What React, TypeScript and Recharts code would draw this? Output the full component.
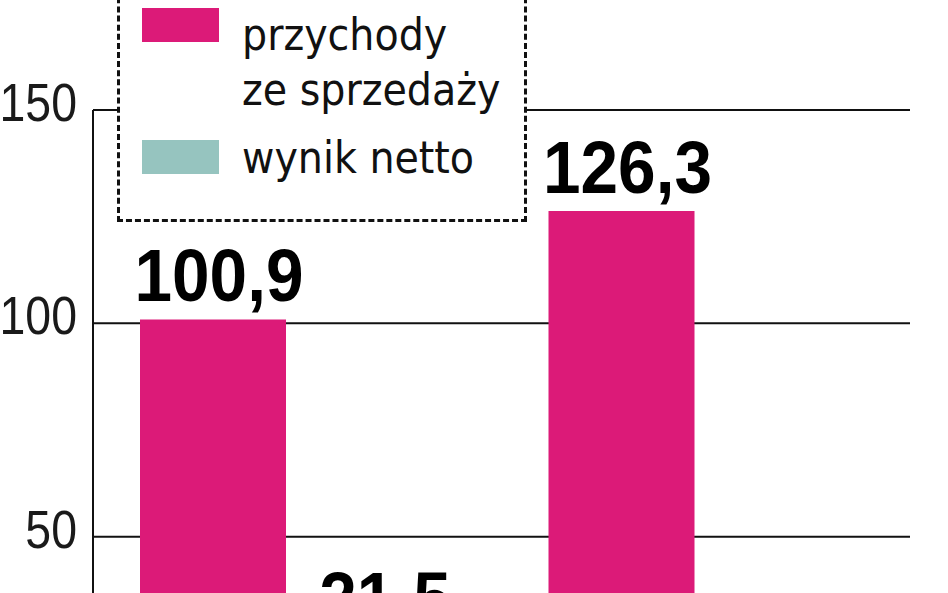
import { Bar, BarChart, CartesianGrid, LabelList, Legend, XAxis, YAxis } from 'recharts'

const years = ['2012', '2013']
const revenue = [100.9, 126.3]
const netResult = [21.5, 9.4]
const yTicks = [0, 50, 100, 150]
const seriesNames = ['przychody\nze sprzedaży', 'wynik netto']
const seriesColors = ['#dc1a78', '#96c4bf']

const data = years.map((year, i) => ({ year, revenue: revenue[i], net: netResult[i] }))

const sans = "'Liberation Sans', Arial, sans-serif"
const condensed = "'DejaVu Sans Condensed', 'DejaVu Sans', sans-serif"

const fmt = (v: any) => Number(v).toFixed(1).replace('.', ',')

// narrow look: squeeze the regular face horizontally
function YTick({ x, y, payload }: any) {
  return (
    <text
      transform={`translate(${x},${y + 11}) scale(0.86,1)`}
      textAnchor="end"
      fontFamily={sans}
      fontSize={54}
      fill="#1a1a1a"
    >
      {payload.value}
    </text>
  )
}

function ValueLabel({ x, y, width, value, gap = 18, shift = 0 }: any) {
  return (
    <text
      transform={`translate(${Number(x) + Number(width) / 2 + shift},${Number(y) - gap}) scale(0.9,1)`}
      textAnchor="middle"
      fontFamily={sans}
      fontSize={75}
      fontWeight={700}
      fill="#000"
    >
      {fmt(value)}
    </text>
  )
}

const swatchTop = [1, 10]

function LegendBox({ payload }: any) {
  const items = payload || []
  return (
    <div
      style={{
        width: 410,
        height: 252,
        boxSizing: 'border-box',
        border: '3px dashed #111',
        background: '#fff',
        paddingTop: 34,
        paddingLeft: 22,
        display: 'flex',
        flexDirection: 'column',
        gap: 13,
        fontFamily: condensed,
        fontStretch: 'condensed',
        fontSize: 44,
        lineHeight: '55px',
        color: '#111'
      }}
    >
      {items.map((entry: any, i: number) => (
        <div key={entry.value} style={{ display: 'flex', alignItems: 'flex-start' }}>
          <div style={{ width: 77, height: 34, marginTop: swatchTop[i] || 0, background: entry.color, flexShrink: 0 }} />
          <div style={{ marginLeft: 23, whiteSpace: 'pre-line' }}>{entry.value}</div>
        </div>
      ))}
    </div>
  )
}

export default function App() {
  return (
    <div style={{ position: 'absolute', left: 0, top: 0, width: 948, height: 593, overflow: 'hidden', background: '#fff' }}>
      <BarChart
        width={948}
        height={800}
        data={data}
        margin={{ top: 110, right: 38, bottom: 10, left: 0 }}
        barSize={146}
        barGap={22}
      >
        <CartesianGrid vertical={false} stroke="#111" strokeWidth={2} />
        <XAxis dataKey="year" height={40} axisLine={false} tickLine={false} />
        <YAxis
          domain={[0, 150]}
          ticks={yTicks}
          interval={0}
          width={93}
          axisLine={{ stroke: '#111', strokeWidth: 2 }}
          tickLine={false}
          tickSize={0}
          tickMargin={16}
          tick={<YTick />}
        />
        <Legend
          layout="horizontal"
          verticalAlign="middle"
          align="center"
          content={<LegendBox />}
          wrapperStyle={{ left: 117, top: -30, width: 410, height: 252 }}
        />
        <Bar dataKey="revenue" name={seriesNames[0]} fill={seriesColors[0]} isAnimationActive={false}>
          <LabelList dataKey="revenue" content={<ValueLabel shift={6} />} />
        </Bar>
        <Bar dataKey="net" name={seriesNames[1]} fill={seriesColors[1]} isAnimationActive={false}>
          <LabelList dataKey="net" content={<ValueLabel gap={34} shift={4} />} />
        </Bar>
      </BarChart>
    </div>
  )
}
